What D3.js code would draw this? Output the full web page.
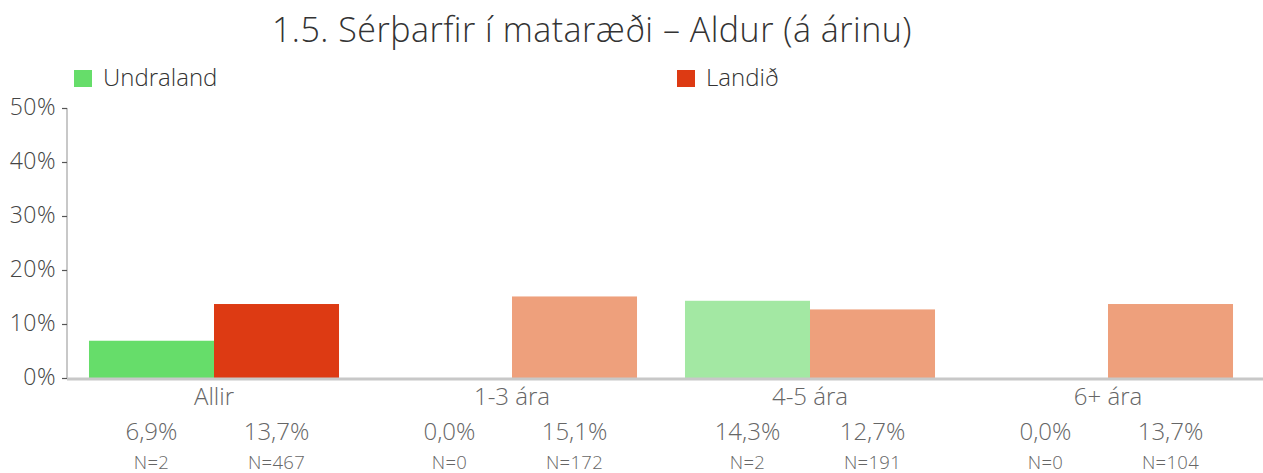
<!DOCTYPE html>
<html>
<head>
<meta charset="utf-8">
<script src="https://cdn.jsdelivr.net/npm/d3@7"></script>
<style>
  body { margin: 0; background: #fff; }
  svg { display: block; font-family: "Open Sans", Lato, sans-serif; font-weight: 300; }
</style>
</head>
<body>
<svg id="chart" width="1263" height="473"></svg>
<script>
const categories = ["Allir", "1-3 ára", "4-5 ára", "6+ ára"];
const seriesNames = ["Undraland", "Landið"];
const undraland = [6.9, 0.0, 14.3, 0.0];
const landid = [13.7, 15.1, 12.7, 13.7];
const nUndraland = [2, 0, 2, 0];
const nLandid = [467, 172, 191, 104];
const yTicks = [0, 10, 20, 30, 40, 50];

// first category in strong colours, the rest in lighter tints
const strong = ["#66dd6a", "#dd3a13"];
const light = ["#a3e8a3", "#eea07c"];

const svg = d3.select("#chart");
const axisLeftX = 67;
const W = 1263;
const FONT = "'Open Sans', Lato, sans-serif";

const x = d3.scaleBand().domain(categories)
  .range([65, 1257]).paddingInner(0.161).paddingOuter(0.0805);
const x1 = d3.scaleBand().domain([0, 1]).range([0, x.bandwidth()]);
const y = d3.scaleLinear().domain([0, 50]).range([378, 108]);

const fmt = v => v.toFixed(1).replace(".", ",") + "%";

// title
svg.append("text").attr("x", 592).attr("y", 42).attr("text-anchor", "middle")
  .attr("font-size", 34).attr("letter-spacing", 0.5).attr("fill", "#333")
  .text("1.5. Sérþarfir í mataræði – Aldur (á árinu)");

// legend
const legendX = [74, 677];
seriesNames.forEach((s, i) => {
  svg.append("rect").attr("x", legendX[i]).attr("y", 70).attr("width", 18).attr("height", 17)
    .attr("fill", strong[i]);
  svg.append("text").attr("x", legendX[i] + 29).attr("y", 86).attr("font-size", 24)
    .attr("fill", "#333").text(s);
});

// y axis
const yAxis = d3.axisLeft(y).tickValues(yTicks).tickFormat(d => d + "%").tickSize(5).tickPadding(6);
const ga = svg.append("g").attr("transform", `translate(${axisLeftX},0)`).call(yAxis);
ga.select(".domain").attr("stroke", "#c8c8c8").attr("stroke-width", 2).attr("d", `M0,${y(50)}V${y(0)}`);
ga.selectAll(".tick line").attr("stroke", "#555").attr("stroke-width", 1.2);
ga.selectAll(".tick text").attr("font-size", 23).attr("letter-spacing", 0.5).attr("fill", "#444")
  .attr("font-family", FONT).attr("font-weight", 300).attr("dy", "0.3em");

// bars
const series = [undraland, landid];
const nSeries = [nUndraland, nLandid];
categories.forEach((c, ci) => {
  series.forEach((vals, si) => {
    const v = vals[ci];
    const bx = x(c) + x1(si);
    if (v > 0) {
      svg.append("rect").attr("x", bx).attr("y", y(v)).attr("width", x1.bandwidth())
        .attr("height", y(0) - y(v)).attr("fill", ci === 0 ? strong[si] : light[si]);
    }
    svg.append("text").attr("x", bx + x1.bandwidth() / 2).attr("y", 440).attr("text-anchor", "middle")
      .attr("font-size", 24).attr("fill", "#666").text(fmt(v));
    svg.append("text").attr("x", bx + x1.bandwidth() / 2).attr("y", 469).attr("text-anchor", "middle")
      .attr("font-size", 18.5).attr("letter-spacing", 0.3).attr("fill", "#666").text("N=" + nSeries[si][ci]);
  });
});

// x axis baseline and category labels
svg.append("line").attr("x1", axisLeftX).attr("x2", W).attr("y1", y(0) + 1).attr("y2", y(0) + 1)
  .attr("stroke", "#c8c8c8").attr("stroke-width", 3);
const xAxis = d3.axisBottom(x).tickSize(0).tickPadding(0);
const gx = svg.append("g").attr("transform", `translate(0,405)`).call(xAxis);
gx.select(".domain").remove();
gx.selectAll(".tick text").attr("font-size", 24).attr("fill", "#666").attr("dy", 0)
  .attr("font-family", FONT).attr("font-weight", 300);
</script>
</body>
</html>
